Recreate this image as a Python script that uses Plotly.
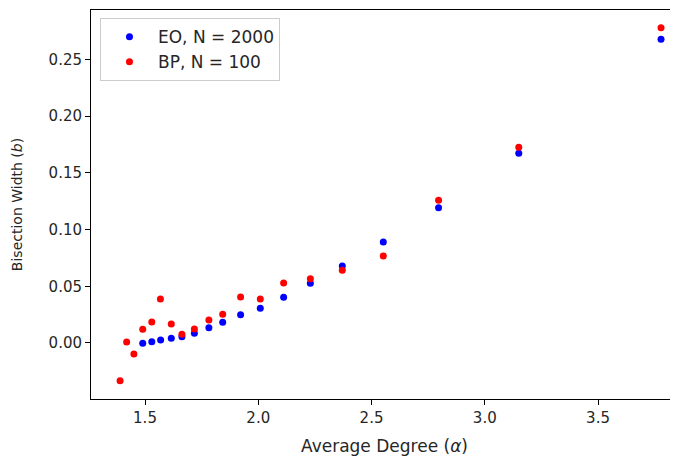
import plotly.graph_objects as go

# EO, N = 2000
eo_alpha = [1.490, 1.530, 1.569, 1.616, 1.663, 1.718, 1.782, 1.843, 1.922, 2.009, 2.112, 2.230, 2.371, 2.552, 2.796, 3.150, 3.778]
eo_b = [-0.0003, 0.0011, 0.0026, 0.0041, 0.0056, 0.0085, 0.0134, 0.0183, 0.0250, 0.0306, 0.0403, 0.0526, 0.0679, 0.0891, 0.1193, 0.1673, 0.2680]

# BP, N = 100
bp_alpha = [1.390, 1.419, 1.451, 1.490, 1.530, 1.568, 1.616, 1.663, 1.718, 1.782, 1.843, 1.922, 2.009, 2.112, 2.230, 2.371, 2.552, 2.796, 3.150, 3.778]
bp_b = [-0.0332, 0.0009, -0.0097, 0.0121, 0.0185, 0.0388, 0.0168, 0.0077, 0.0123, 0.0203, 0.0253, 0.0406, 0.0388, 0.0529, 0.0566, 0.0641, 0.0767, 0.1258, 0.1726, 0.2780]

x_ticks = [1.5, 2.0, 2.5, 3.0, 3.5]
x_tick_labels = ["1.5", "2.0", "2.5", "3.0", "3.5"]
y_ticks = [0.00, 0.05, 0.10, 0.15, 0.20, 0.25]
y_tick_labels = ["0.00", "0.05", "0.10", "0.15", "0.20", "0.25"]

FONT = "DejaVu Sans"
TXT = "#262626"

fig = go.Figure()
fig.add_trace(go.Scatter(x=eo_alpha, y=eo_b, mode="markers", name="EO, N = 2000",
                         marker=dict(color="#0000ff", size=7, line=dict(width=0))))
fig.add_trace(go.Scatter(x=bp_alpha, y=bp_b, mode="markers", name="BP, N = 100",
                         marker=dict(color="#ff0000", size=7, line=dict(width=0))))

axis_common = dict(showgrid=False, zeroline=False, showline=True, linecolor="#000000",
                   linewidth=1, ticks="outside", ticklen=5, tickwidth=1, tickcolor="#000000",
                   automargin=False,
                   tickfont=dict(family=FONT, size=15, color=TXT))

fig.update_xaxes(range=[1.2616, 3.853], tickvals=x_ticks, ticktext=x_tick_labels,
                 mirror=True, title=dict(text="Average Degree (<i>α</i>)",
                                         font=dict(family=FONT, size=17, color=TXT), standoff=14),
                 **axis_common)
fig.update_yaxes(range=[-0.0494, 0.2937], tickvals=y_ticks, ticktext=y_tick_labels,
                 mirror=False, title=dict(text="Bisection Width (<i>b</i>)",
                                          font=dict(family=FONT, size=14, color=TXT), standoff=22),
                 **axis_common)

# the page body adds an 8px offset, so the figure is 8px smaller than the window
fig.update_layout(
    width=670, height=451,
    margin=dict(l=83, r=0, t=2, b=60),
    plot_bgcolor="white", paper_bgcolor="white",
    font=dict(family=FONT, size=15, color=TXT),
    legend=dict(x=0.0153, y=0.979, xanchor="left", yanchor="top",
                bgcolor="rgba(255,255,255,0.8)", bordercolor="#cccccc", borderwidth=1,
                itemwidth=47,
                font=dict(family=FONT, size=17, color=TXT)),
)

fig.write_html("out.html")
